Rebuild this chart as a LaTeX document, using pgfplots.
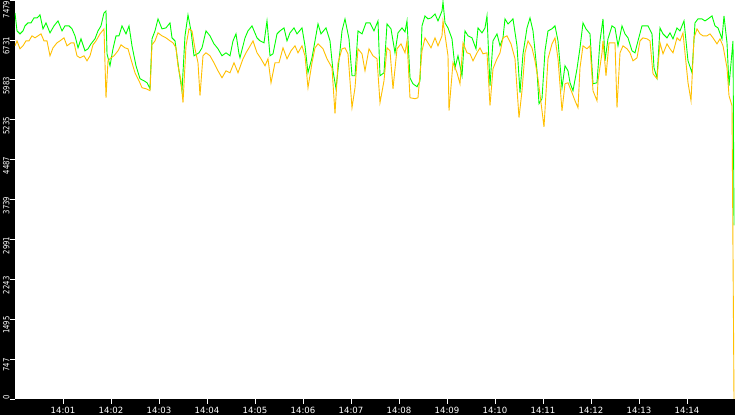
\documentclass[border=0pt]{standalone}
\usepackage{fontspec}
\setmainfont{DejaVu Sans}
\newfontfamily\condfont[FakeStretch=0.8]{DejaVu Sans}
\usepackage{pgfplots}
\pgfplotsset{compat=1.18}

\definecolor{linegreen}{RGB}{0,255,0}
\definecolor{lineorange}{RGB}{255,192,0}

\begin{document}
\begin{tikzpicture}
\fill[black] (-15bp,-16bp) rectangle (720bp,399bp);
\begin{axis}[
  at={(0,0)}, anchor=south west,
  scale only axis,
  width=720bp, height=399bp,
  xmin=0, xmax=900,
  ymin=0, ymax=7479,
  axis background/.style={fill=white},
  axis line style={draw=none},
  tick align=outside,
  major tick length=4.5bp,
  tick style={white, line width=0.8bp},
  xtick pos=bottom, ytick pos=left,
  xtick={60,120,180,240,300,360,420,480,540,600,660,720,780,840},
  xticklabels={14:01,14:02,14:03,14:04,14:05,14:06,14:07,14:08,14:09,14:10,14:11,14:12,14:13,14:14},
  ytick={0,747,1495,2243,2991,3739,4487,5235,5983,6731,7479},
  yticklabels={\hspace*{15bp}0,747,1495,2243,2991,3739,4487,5235,5983,6731,7479\hspace*{7bp}},
  xticklabel style={font=\fontsize{8.6}{10}\selectfont, text=white, anchor=base, yshift=-10bp},
  yticklabel style={font=\condfont\fontsize{8.6}{10}\selectfont, text=white, xshift=-1bp, yshift=-6bp, rotate=90, anchor=base},
  every axis plot/.append style={line width=0.9bp, mark=none},
]

% green series
\addplot[linegreen] table {
0 7237
2.5 6900
6.25 6844
10 6900
12.5 6994
16.25 7050
20 7050
23.75 7143
27.5 7143
31.25 7200
35 6938
38.75 7050
43.75 6863
48.75 6994
53.75 7087
58.75 6900
62.5 6994
67.5 6994
71.25 6938
75 6807
78.75 6582
82.5 6751
87.5 6526
91.25 6564
95 6657
100 6751
103.75 6900
107.5 6994
111.25 7237
113.75 7274
115 6470
118.75 6246
122.5 6564
126.25 6807
130 6807
133.75 6994
138.75 6844
142.5 6994
146.25 6620
151.25 6246
156.25 6003
161.25 5965
165 5928
168.75 5816
171.25 6751
175 6900
178.75 7125
183.75 6938
188.75 6956
193.75 7050
196.25 6769
200 6713
205 6152
208.75 5778
212.5 6807
216.25 7200
220 6900
223.75 6433
230 6489
233.75 6582
238.75 6900
243.75 6807
248.75 6657
253.75 6564
258.75 6433
263.75 6489
268.75 6433
272.5 6713
276.25 6844
280 6470
281.25 6395
287.5 6769
291.25 6900
296.25 6994
302.5 6769
306.25 6713
311.25 6676
315 7087
318.75 6433
322.5 6470
327.5 6844
331.25 6900
336.25 6956
340 6713
343.75 6863
348.75 6956
352.5 6844
358.75 6956
362.5 6620
366.25 6115
371.25 6395
375 6713
378.75 7031
382.5 6844
388.75 6956
393.75 6713
397.5 6152
401.25 5816
406.25 6526
408.75 6900
412.5 7125
417.5 6751
421.25 6059
425 6059
428.75 6900
433.75 6844
438.75 7050
443.75 7050
448.75 6900
453.75 7087
456.25 6059
461.25 6115
465 7031
470 6938
475 6489
478.75 6863
483.75 6956
487.5 6882
490 7087
493.75 6021
497.5 5909
502.5 5853
506.25 5965
508.75 6994
512.5 7181
516.25 7125
520 7143
525 7218
528.75 7087
533.75 7274
535 7443
537.5 7050
541.25 6956
546.25 6751
550 6208
553.75 6433
558.75 6059
562.5 6900
566.25 6807
571.25 6769
576.25 6564
578.75 6956
583.75 6863
587.5 6956
590 7181
593.75 5872
597.5 6713
602.5 6844
606.25 6620
610 6769
612.5 7125
616.25 7031
622.5 7125
627.5 6620
631.25 5741
635 6470
640 6956
643.75 7143
647.5 6900
652.5 6152
655 5535
658.75 5629
662.5 6526
666.25 6900
671.25 6938
675 6994
678.75 6713
683.75 5834
687.5 6246
691.25 6152
693.75 5928
697.5 5778
702.5 6190
706.25 6582
710 7050
713.75 6938
718.75 6844
722.5 5909
727.5 5928
731.25 6713
735 7125
737.5 6339
741.25 6751
746.25 6994
750 6956
753.75 6620
758.75 6994
762.5 6844
766.25 6769
771.25 6526
775 6489
778.75 6713
783.75 6994
787.5 6994
791.25 6994
796.25 6844
798.75 6208
802.5 6021
806.25 6956
810 6844
815 6769
818.75 6863
822.5 6751
827.5 6956
831.25 6900
836.25 7087
841.25 6339
846.25 6115
850 7050
853.75 7125
858.75 7125
862.5 7087
866.25 7125
871.25 7181
875 6994
878.75 6956
883.75 6751
886.25 7181
890 6676
892.5 5872
897.5 6713
898.75 3254
};

% orange series
\addplot[lineorange] table {
0 6620
2.5 6713
6.25 6564
10 6620
13.75 6713
17.5 6713
21.25 6807
25 6769
28.75 6807
32.5 6844
36.25 6713
40 6713
43.75 6433
47.5 6582
52.5 6676
56.25 6713
61.25 6769
65 6620
70 6676
73.75 6676
77.5 6433
81.25 6395
86.25 6433
90 6339
93.75 6433
97.5 6639
101.25 6713
106.25 6844
111.25 6938
113.75 5647
116.25 6339
120 6395
123.75 6433
128.75 6526
132.5 6639
137.5 6582
141.25 6564
146.25 6302
150 6115
155 5965
158.75 5834
163.75 5816
168.75 5778
171.25 6639
175 6713
178.75 6863
183.75 6807
188.75 6769
193.75 6713
197.5 6676
201.25 6582
203.75 6246
207.5 5965
210 5554
213.75 6620
217.5 6938
221.25 6900
225 6564
228.75 6302
231.25 5685
235 6433
238.75 6489
243.75 6433
248.75 6302
253.75 6152
258.75 6021
263.75 6152
268.75 6115
273.75 6302
278.75 6115
285 6377
288.75 6489
292.5 6582
297.5 6713
302.5 6489
307.5 6377
312.5 6246
316.25 6377
320 5928
325 6302
330 6302
335 6582
340 6377
345 6526
350 6620
353.75 6489
358.75 6620
362.5 6433
366.25 5834
371.25 6302
375 6582
378.75 6657
385 6564
390 6377
396.25 6208
400 5348
403.75 6302
408.75 6564
412.5 6582
416.25 6470
421.25 5460
425 5834
428.75 6564
433.75 6470
437.5 6152
442.5 6564
447.5 6433
452.5 6377
456.25 5554
461.25 5965
465 6582
468.75 6526
472.5 5816
477.5 6564
482.5 6657
487.5 6489
490 6713
493.75 5647
500 5629
503.75 5647
508.75 6526
512.5 6769
516.25 6676
520 6582
525 6769
528.75 6620
533.75 6807
535 7087
541.25 6433
542.5 5404
547.5 6302
552.5 6115
556.25 5909
560 6676
565 6489
568.75 6470
572.5 6339
577.5 6489
581.25 6582
585 6470
590 6489
593.75 5500
597.5 6190
602.5 6377
606.25 6489
610 6769
615 6807
620 6657
625 6377
630 5273
633.75 5778
637.5 6489
641.25 6713
646.25 6582
650 6339
653.75 6003
661.25 5100
666.25 6377
671.25 6657
675 6769
678.75 6377
683.75 5400
687.5 5909
691.25 5928
696.25 5741
700 5591
703.75 5460
706.25 6208
710 6620
715 6564
718.75 6620
722.5 5778
727.5 5591
728.75 5965
733.75 6489
735 6713
738.75 6059
742.5 6676
746.25 6676
750 6676
752.5 5460
756.25 6489
760 6620
765 6564
768.75 6489
772.5 6339
777.5 6395
781.25 6713
785 6769
790 6751
793.75 6713
797.5 6096
802.5 6003
806.25 6676
810 6470
815 6657
818.75 6564
822.5 6489
827.5 6769
831.25 6713
835 6863
841.25 5928
845 5591
848.75 6769
852.5 6938
856.25 6844
860 6807
865 6807
868.75 6844
872.5 6769
877.5 6657
881.25 6751
885 6620
890 6208
892.5 5685
896.25 5498
898.75 0
};
\end{axis}
\pgfresetboundingbox
\useasboundingbox (-15bp,-16bp) rectangle (720bp,399bp);
\end{tikzpicture}
\end{document}
